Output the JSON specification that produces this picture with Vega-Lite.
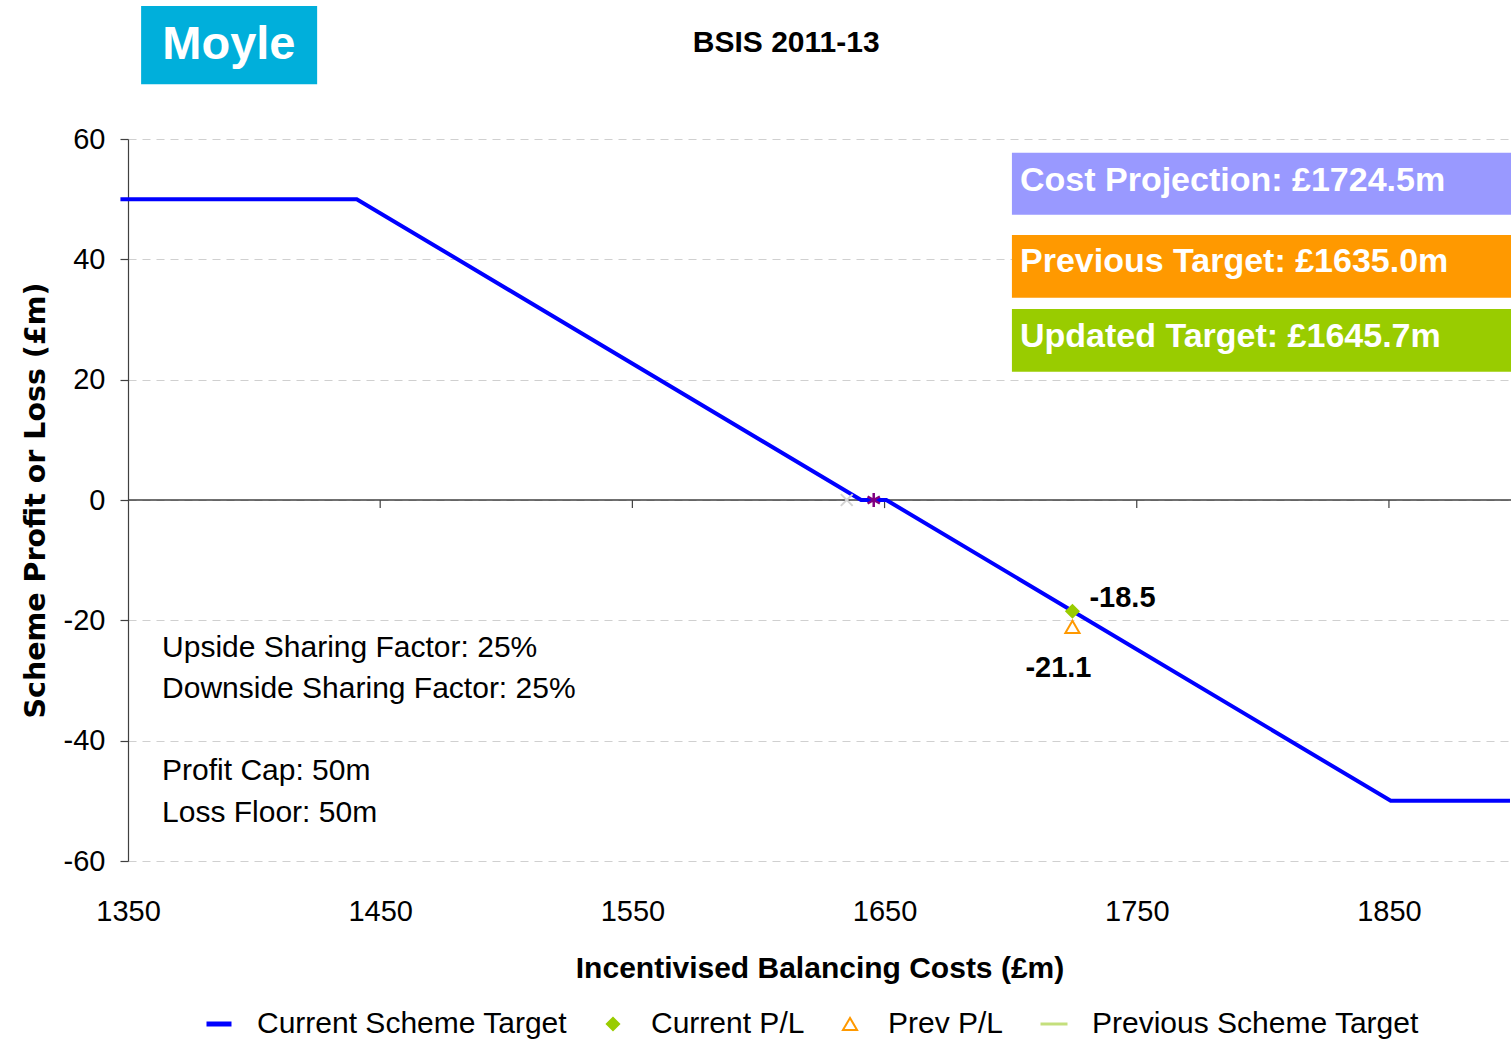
{
  "$schema": "https://vega.github.io/schema/vega-lite/v6.json",
  "width": 1383,
  "height": 722,
  "autosize": {"type": "none"},
  "padding": {"left": 128, "top": 139, "right": 0, "bottom": 181},
  "background": "white",
  "datasets": {
    "target": [
      {"cost": 1347, "pl": 50, "series": "Current Scheme Target"},
      {"cost": 1440.7, "pl": 50, "series": "Current Scheme Target"},
      {"cost": 1640.7, "pl": 0, "series": "Current Scheme Target"},
      {"cost": 1650.7, "pl": 0, "series": "Current Scheme Target"},
      {"cost": 1850.7, "pl": -50, "series": "Current Scheme Target"},
      {"cost": 1898, "pl": -50, "series": "Current Scheme Target"}
    ],
    "plpoints": [
      {"cost": 1724.5, "pl": -21.1, "series": "Prev P/L", "label": "-21.1"},
      {"cost": 1724.5, "pl": -18.5, "series": "Current P/L", "label": "-18.5"}
    ],
    "targets": [
      {"cost": 1635.0, "pl": 0, "kind": "Previous Target"},
      {"cost": 1645.7, "pl": 0, "kind": "Updated Target"}
    ],
    "ticks": [{"cost": 1450}, {"cost": 1550}, {"cost": 1650}, {"cost": 1750}, {"cost": 1850}],
    "notes": [
      {"cost": 1363.5, "pl": -24.6, "text": "Upside Sharing Factor: 25%"},
      {"cost": 1363.5, "pl": -31.4, "text": "Downside Sharing Factor: 25%"},
      {"cost": 1363.5, "pl": -45.0, "text": "Profit Cap: 50m"},
      {"cost": 1363.5, "pl": -52.0, "text": "Loss Floor: 50m"}
    ],
    "boxes": [
      {"x1": 1700.5, "x2": 1898.4, "y1": 57.7, "y2": 47.4, "ty": 53.0, "tx": 1703.7, "text": "Cost Projection: £1724.5m", "fill": "#9999ff"},
      {"x1": 1700.5, "x2": 1898.4, "y1": 44.05, "y2": 33.6, "ty": 39.6, "tx": 1703.7, "text": "Previous Target: £1635.0m", "fill": "#ff9900"},
      {"x1": 1700.5, "x2": 1898.4, "y1": 31.75, "y2": 21.3, "ty": 27.1, "tx": 1703.7, "text": "Updated Target: £1645.7m", "fill": "#99cc00"}
    ],
    "badge": [
      {"x1": 1355.2, "x2": 1425.0, "y1": 82.1, "y2": 69.1, "tx": 1390.0, "ty": 75.6, "text": "Moyle"}
    ],
    "heading": [
      {"tx": 1611.0, "ty": 76.0, "text": "BSIS 2011-13"}
    ]
  },
  "layer": [
    {
      "data": {"values": [{}]},
      "mark": {"type": "rule", "color": "#404040", "strokeWidth": 1.3},
      "encoding": {
        "y": {"datum": 0, "type": "quantitative", "scale": {"domain": [-60, 60], "nice": false, "zero": false},
          "axis": {
            "values": [-60, -40, -20, 0, 20, 40, 60],
            "labelExpr": "'' + datum.value",
            "labelFont": "Liberation Sans", "labelFontSize": 29, "labelColor": "black", "labelPadding": 15,
            "domain": true, "domainColor": "#404040", "domainWidth": 1.2,
            "ticks": true, "tickSize": 8, "tickColor": "#404040", "tickWidth": 1.2,
            "grid": true, "gridColor": "#d0d0d0", "gridDash": [8, 6], "gridWidth": 1.2,
            "title": "Scheme Profit or Loss (£m)", "titleFont": "DejaVu Sans", "titleFontSize": 28.5, "titleFontWeight": "bold", "titleColor": "black", "titlePadding": 13
          }
        }
      }
    },
    {
      "data": {"name": "ticks"},
      "mark": {"type": "rule", "color": "#404040", "strokeWidth": 1.2},
      "encoding": {
        "x": {"field": "cost", "type": "quantitative", "scale": {"domain": [1350, 1898.4], "nice": false, "zero": false},
          "axis": {
            "values": [1350, 1450, 1550, 1650, 1750, 1850],
            "format": "d",
            "labelFont": "Liberation Sans", "labelFontSize": 29, "labelColor": "black", "labelPadding": 36, "labelFlush": false, "labelOverlap": false,
            "domain": false, "ticks": false, "grid": false,
            "title": "Incentivised Balancing Costs (£m)", "titleFont": "Liberation Sans", "titleFontSize": 30, "titleFontWeight": "bold", "titleColor": "black", "titlePadding": 27
          }
        },
        "y": {"datum": 0, "type": "quantitative"},
        "y2": {"datum": -1.35}
      }
    },
    {
      "data": {"name": "target"},
      "mark": {"type": "line", "strokeWidth": 4, "clip": false, "color": "#0000ff"},
      "encoding": {
        "x": {"field": "cost", "type": "quantitative"},
        "y": {"field": "pl", "type": "quantitative"}
      }
    },
    {
      "data": {"name": "targets"},
      "transform": [{"filter": "datum.kind === 'Previous Target'"}],
      "mark": {"type": "point", "shape": "M-1,-1L1,1M-1,1L1,-1", "filled": false, "color": "#d4d4d4", "strokeWidth": 2, "size": 140, "opacity": 1},
      "encoding": {
        "x": {"field": "cost", "type": "quantitative"},
        "y": {"field": "pl", "type": "quantitative"}
      }
    },
    {
      "data": {"name": "targets"},
      "transform": [{"filter": "datum.kind === 'Updated Target'"}],
      "mark": {"type": "point", "shape": "M0,-1L0,1M-0.87,-0.5L0.87,0.5M-0.87,0.5L0.87,-0.5", "filled": false, "color": "#800080", "strokeWidth": 2.5, "size": 200, "opacity": 1},
      "encoding": {
        "x": {"field": "cost", "type": "quantitative"},
        "y": {"field": "pl", "type": "quantitative"}
      }
    },
    {
      "data": {"name": "plpoints"},
      "mark": {"type": "point", "opacity": 1, "fillOpacity": 1},
      "encoding": {
        "x": {"field": "cost", "type": "quantitative"},
        "y": {"field": "pl", "type": "quantitative"},
        "stroke": {"field": "series", "type": "nominal",
          "scale": {"domain": ["Current Scheme Target", "Current P/L", "Prev P/L", "Previous Scheme Target"], "range": ["#0000ff", "#99cc00", "#ff9900", "#c4df7c"]},
          "legend": {
            "orient": "none", "legendX": 76, "legendY": 870, "direction": "horizontal", "title": null, "padding": 0,
            "labelFont": "Liberation Sans", "labelFontSize": 30, "labelColor": "black", "labelLimit": 500,
            "labelOffset": 23, "columnPadding": 30
          }
        },
        "fill": {"field": "series", "type": "nominal",
          "scale": {"domain": ["Current Scheme Target", "Current P/L", "Prev P/L", "Previous Scheme Target"], "range": ["transparent", "#99cc00", "transparent", "transparent"]},
          "legend": {
            "orient": "none", "legendX": 76, "legendY": 870, "direction": "horizontal", "title": null, "padding": 0,
            "labelFont": "Liberation Sans", "labelFontSize": 30, "labelColor": "black", "labelLimit": 500,
            "labelOffset": 23, "columnPadding": 30
          }
        },
        "shape": {"field": "series", "type": "nominal",
          "scale": {"domain": ["Current Scheme Target", "Current P/L", "Prev P/L", "Previous Scheme Target"], "range": ["stroke", "diamond", "triangle-up", "stroke"]},
          "legend": {
            "orient": "none", "legendX": 76, "legendY": 870, "direction": "horizontal", "title": null, "padding": 0,
            "labelFont": "Liberation Sans", "labelFontSize": 30, "labelColor": "black", "labelLimit": 500,
            "labelOffset": 23, "columnPadding": 30
          }
        },
        "size": {"field": "series", "type": "nominal",
          "scale": {"type": "ordinal", "domain": ["Current Scheme Target", "Current P/L", "Prev P/L", "Previous Scheme Target"], "range": [625, 150, 200, 729]},
          "legend": {
            "orient": "none", "legendX": 76, "legendY": 870, "direction": "horizontal", "title": null, "padding": 0,
            "labelFont": "Liberation Sans", "labelFontSize": 30, "labelColor": "black", "labelLimit": 500,
            "labelOffset": 23, "columnPadding": 30
          }
        },
        "strokeWidth": {"field": "series", "type": "nominal",
          "scale": {"type": "ordinal", "domain": ["Current Scheme Target", "Current P/L", "Prev P/L", "Previous Scheme Target"], "range": [5, 2, 2, 3]},
          "legend": {
            "orient": "none", "legendX": 76, "legendY": 870, "direction": "horizontal", "title": null, "padding": 0,
            "labelFont": "Liberation Sans", "labelFontSize": 30, "labelColor": "black", "labelLimit": 500,
            "labelOffset": 23, "columnPadding": 30
          }
        }
      }
    },
    {
      "data": {"name": "plpoints"},
      "transform": [{"filter": "datum.series === 'Current P/L'"}],
      "mark": {"type": "text", "font": "Liberation Sans", "fontSize": 29, "fontWeight": "bold", "color": "black", "align": "left", "baseline": "middle", "dx": 17, "dy": -13},
      "encoding": {
        "x": {"field": "cost", "type": "quantitative"},
        "y": {"field": "pl", "type": "quantitative"},
        "text": {"field": "label"}
      }
    },
    {
      "data": {"name": "plpoints"},
      "transform": [{"filter": "datum.series === 'Prev P/L'"}],
      "mark": {"type": "text", "font": "Liberation Sans", "fontSize": 29, "fontWeight": "bold", "color": "black", "align": "center", "baseline": "middle", "dx": -14, "dy": 41},
      "encoding": {
        "x": {"field": "cost", "type": "quantitative"},
        "y": {"field": "pl", "type": "quantitative"},
        "text": {"field": "label"}
      }
    },
    {
      "data": {"name": "notes"},
      "mark": {"type": "text", "font": "Liberation Sans", "fontSize": 30, "color": "black", "align": "left", "baseline": "middle"},
      "encoding": {
        "x": {"field": "cost", "type": "quantitative"},
        "y": {"field": "pl", "type": "quantitative"},
        "text": {"field": "text"}
      }
    },
    {
      "data": {"name": "boxes"},
      "mark": {"type": "rect", "clip": false},
      "encoding": {
        "x": {"field": "x1", "type": "quantitative"},
        "x2": {"field": "x2"},
        "y": {"field": "y1", "type": "quantitative"},
        "y2": {"field": "y2"},
        "fill": {"field": "fill", "type": "nominal", "scale": null}
      }
    },
    {
      "data": {"name": "boxes"},
      "mark": {"type": "text", "font": "Liberation Sans", "fontSize": 34, "fontWeight": "bold", "color": "white", "align": "left", "baseline": "middle"},
      "encoding": {
        "x": {"field": "tx", "type": "quantitative"},
        "y": {"field": "ty", "type": "quantitative"},
        "text": {"field": "text"}
      }
    },
    {
      "data": {"name": "badge"},
      "mark": {"type": "rect", "clip": false, "color": "#00afdb"},
      "encoding": {
        "x": {"field": "x1", "type": "quantitative"},
        "x2": {"field": "x2"},
        "y": {"field": "y1", "type": "quantitative"},
        "y2": {"field": "y2"}
      }
    },
    {
      "data": {"name": "badge"},
      "mark": {"type": "text", "font": "Liberation Sans", "fontSize": 47, "fontWeight": "bold", "color": "white", "align": "center", "baseline": "middle"},
      "encoding": {
        "x": {"field": "tx", "type": "quantitative"},
        "y": {"field": "ty", "type": "quantitative"},
        "text": {"field": "text"}
      }
    },
    {
      "data": {"name": "heading"},
      "mark": {"type": "text", "font": "Liberation Sans", "fontSize": 30, "fontWeight": "bold", "color": "black", "align": "center", "baseline": "middle"},
      "encoding": {
        "x": {"field": "tx", "type": "quantitative"},
        "y": {"field": "ty", "type": "quantitative"},
        "text": {"field": "text"}
      }
    }
  ],
  "config": {"view": {"stroke": null}, "font": "Liberation Sans"}
}
